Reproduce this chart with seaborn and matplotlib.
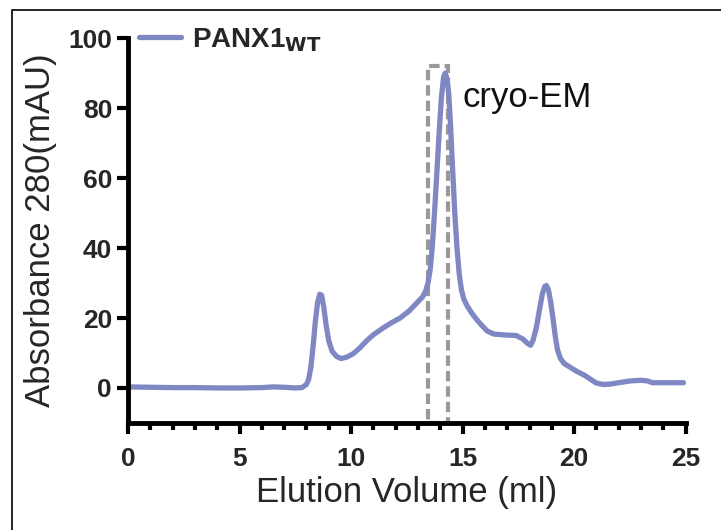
import matplotlib
matplotlib.use('Agg')
import matplotlib.pyplot as plt
from matplotlib.patches import Rectangle
from matplotlib.ticker import MultipleLocator
import seaborn as sns
import pandas as pd

# elution trace
volume_ml = [0, 1, 2, 3, 4, 5, 6, 6.5, 7, 7.5, 7.8, 8.0, 8.1, 8.2, 8.3, 8.4, 8.5,
             8.6, 8.68, 8.78, 8.88, 9.0, 9.15, 9.35, 9.55, 9.8, 10.1, 10.4, 10.7,
             11.0, 11.4, 11.8, 12.2, 12.6, 12.9, 13.2, 13.35, 13.45, 13.55, 13.65,
             13.75, 13.85, 13.95, 14.05, 14.15, 14.22, 14.3, 14.38, 14.46, 14.55,
             14.65, 14.75, 14.85, 14.95, 15.05, 15.2, 15.4, 15.6, 15.8, 16.1, 16.4,
             17.0, 17.4, 17.7, 17.9, 18.05, 18.15, 18.3, 18.45, 18.58, 18.68, 18.76,
             18.85, 18.95, 19.05, 19.15, 19.25, 19.38, 19.55, 19.8, 20.1, 20.5,
             20.8, 21.0, 21.3, 21.6, 22.0, 22.5, 23.0, 23.3, 23.5, 24.0, 24.9]
absorbance_mau = [0.3, 0.2, 0.1, 0.1, 0.0, 0.0, 0.1, 0.3, 0.2, 0.0, 0.1, 1.0, 2.5,
                  6, 12, 19, 24.5, 26.8, 26.5, 23, 18, 13.5, 10.5, 9, 8.4, 8.8, 9.8,
                  11.5, 13.5, 15.2, 17, 18.6, 20, 22, 24, 26, 27.8, 30, 34, 41, 51,
                  62, 73, 83, 89, 90, 88.5, 84, 75, 63, 50, 40, 32.5, 28, 25.5, 23.5,
                  21.5, 19.8, 18.3, 16.3, 15.4, 15.1, 15.0, 14, 12.8, 12.2, 13.5, 17,
                  22.5, 27, 29, 29.3, 28, 24.5, 20, 15, 11, 8.5, 7, 6, 4.8, 3.5, 2.2,
                  1.4, 1.0, 1.1, 1.5, 2.0, 2.2, 2.0, 1.5, 1.5, 1.5]

# fraction taken for cryo-EM
box_start, box_end = 13.45, 14.35
box_low, box_high = -10, 92

sns.set_theme(style='ticks')
plt.rcParams['font.family'] = ['Liberation Sans', 'DejaVu Sans']

df = pd.DataFrame({'Elution Volume (ml)': volume_ml, 'A280': absorbance_mau})

fig = plt.figure(figsize=(7.21, 5.30), dpi=100)
ax = fig.add_axes([0.1775, 0.202, 0.951 - 0.1775, 0.928 - 0.202])

sns.lineplot(data=df, x='Elution Volume (ml)', y='A280', ax=ax, color='#8088c4',
             linewidth=3.8, label=r'PANX1$_{\mathbf{WT}}$', sort=False)

ax.add_patch(Rectangle((box_start, box_low), box_end - box_start, box_high - box_low,
                       fill=False, edgecolor='#999999', linestyle=(0, (2.5, 1.2)),
                       linewidth=3, clip_on=False, zorder=1))
ax.text(15.0, 83, 'cryo-EM', fontsize=25, va='center', ha='left', color='#111111')

ax.set_xlim(0, 25)
ax.set_ylim(-10, 100)
ax.xaxis.set_major_locator(MultipleLocator(5))
ax.xaxis.set_minor_locator(MultipleLocator(1))
ax.yaxis.set_major_locator(MultipleLocator(20))
ax.tick_params(axis='both', which='major', width=3, length=8, labelsize=19,
               color='black')
ax.tick_params(axis='x', which='major', pad=9)
ax.tick_params(axis='x', which='minor', width=3, length=5, color='black')
for lab in ax.get_xticklabels() + ax.get_yticklabels():
    lab.set_fontweight('bold')

for side in ['left', 'bottom']:
    ax.spines[side].set_linewidth(3.5)
    ax.spines[side].set_color('black')
sns.despine(ax=ax)

ax.set_xlabel('Elution Volume (ml)', fontsize=25, labelpad=4)
ax.set_ylabel('Absorbance 280(mAU)', fontsize=25, labelpad=8)

leg = ax.legend(loc='upper left', frameon=False, fontsize=20, handlelength=1.5,
                handletextpad=0.4, borderaxespad=0.0, bbox_to_anchor=(0.0, 1.06))
for t in leg.get_texts():
    t.set_fontweight('bold')

# outer frame around the panel
fig.patches.append(Rectangle((12 / 721, -0.05), 1.1, 1 - 10 / 530 + 0.05,
                             transform=fig.transFigure, fill=False,
                             edgecolor='black', linewidth=1.2))

fig.savefig('out.png', dpi=100)
